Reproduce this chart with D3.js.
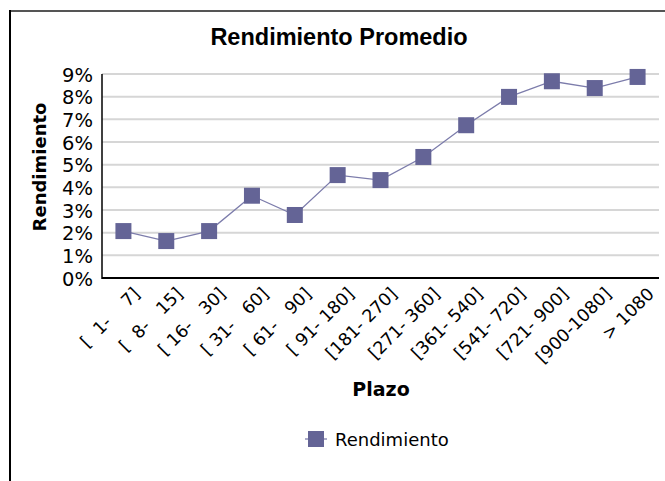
<!DOCTYPE html>
<html>
<head>
<meta charset="utf-8">
<script src="https://cdn.jsdelivr.net/npm/d3@7"></script>
<style>
  body { margin: 0; background: #fff; }
  svg { display: block; }
  text { font-family: "DejaVu Sans", Tahoma, sans-serif; fill: #000; }
</style>
</head>
<body>
<script>
// data
var plazos = ["[  1-    7]", "[  8-   15]", "[ 16-   30]", "[ 31-   60]", "[ 61-   90]", "[ 91- 180]",
    "[181- 270]", "[271- 360]", "[361- 540]", "[541- 720]", "[721- 900]", "[900-1080]", "> 1080"];
var rendimiento = [0.0207, 0.0163, 0.0207, 0.0363, 0.0278, 0.0454, 0.0432, 0.0534, 0.0674, 0.0799, 0.0868, 0.0838, 0.0887];
var yTicks = [0, 0.01, 0.02, 0.03, 0.04, 0.05, 0.06, 0.07, 0.08, 0.09];

var w = 665, h = 481;
var plotL = 102, plotR = 659, plotT = 74, plotB = 278;
var markColor = "#646496", lineColor = "#7c7cab";

var svg = d3.select("body").append("svg")
    .attr("width", w)
    .attr("height", h);

//outer frame (runs off the page right and bottom)
svg.append("line").attr("x1", 9).attr("x2", w).attr("y1", 11).attr("y2", 11)
    .style("stroke", "#555").style("stroke-width", 2);
svg.append("line").attr("x1", 10).attr("x2", 10).attr("y1", 10).attr("y2", h)
    .style("stroke", "#000").style("stroke-width", 2);

var x = d3.scalePoint()
    .domain(plazos)
    .range([plotL, plotR])
    .padding(0.5);

var y = d3.scaleLinear()
    .domain([0, 0.09])
    .range([plotB, plotT]);

//gridlines
svg.append("g").selectAll("line")
    .data(yTicks.slice(1))
    .enter()
    .append("line")
    .attr("x1", plotL).attr("x2", plotR)
    .attr("y1", function(d){ return y(d); })
    .attr("y2", function(d){ return y(d); })
    .style("stroke", "#d6d6d6")
    .style("stroke-width", 2);

//y axis
var yAxis = svg.append("g")
    .attr("transform", "translate(" + plotL + ",0)")
    .call(d3.axisLeft(y).tickValues(yTicks).tickFormat(d3.format(".0%")).tickSize(0).tickPadding(9));
yAxis.select(".domain").remove();
yAxis.selectAll("text").style("font-size", "19.5px").attr("dy", "0.36em");
svg.append("line").attr("x1", plotL).attr("x2", plotL).attr("y1", plotT).attr("y2", plotB + 1)
    .style("stroke", "#000").style("stroke-width", 1.5);

//x axis
var xAxis = svg.append("g")
    .attr("transform", "translate(0," + plotB + ")")
    .call(d3.axisBottom(x).tickSize(0));
xAxis.select(".domain").remove();
xAxis.selectAll("text")
    .style("font-size", "17.5px")
    .style("white-space", "pre")
    .attr("text-anchor", "end")
    .attr("dy", null)
    .attr("y", 0)
    .attr("transform", "translate(17,17) rotate(-45)");
svg.append("line").attr("x1", plotL).attr("x2", plotR).attr("y1", plotB).attr("y2", plotB)
    .style("stroke", "#000").style("stroke-width", 2);

//series line
var line = d3.line()
    .x(function(d, i){ return x(plazos[i]); })
    .y(function(d){ return y(d); });

svg.append("path")
    .datum(rendimiento)
    .attr("d", line)
    .style("fill", "none")
    .style("stroke", lineColor)
    .style("stroke-width", 1.3);

var ms = 16;
svg.selectAll(".mark")
    .data(rendimiento)
    .enter()
    .append("rect")
    .attr("class", "mark")
    .attr("x", function(d, i){ return x(plazos[i]) - ms / 2; })
    .attr("y", function(d){ return y(d) - ms / 2; })
    .attr("width", ms)
    .attr("height", ms)
    .style("fill", markColor);

//title
svg.append("text")
    .attr("x", 339).attr("y", 45)
    .attr("text-anchor", "middle")
    .style("font-family", "'Liberation Sans', Arial, sans-serif")
    .style("font-weight", "bold")
    .style("font-size", "23.5px")
    .text("Rendimiento Promedio");

//axis titles
svg.append("text")
    .attr("transform", "translate(46,167) rotate(-90)")
    .attr("text-anchor", "middle")
    .style("font-weight", "bold")
    .style("font-size", "18px")
    .text("Rendimiento");

svg.append("text")
    .attr("x", 381).attr("y", 396)
    .attr("text-anchor", "middle")
    .style("font-weight", "bold")
    .style("font-size", "19px")
    .text("Plazo");

//legend
svg.append("line").attr("x1", 305).attr("x2", 327).attr("y1", 439).attr("y2", 439)
    .style("stroke", lineColor).style("stroke-width", 1.3);
svg.append("rect").attr("x", 308).attr("y", 431).attr("width", 16).attr("height", 16)
    .style("fill", markColor);
svg.append("text")
    .attr("x", 335).attr("y", 446)
    .style("font-size", "18px")
    .text("Rendimiento");
</script>
</body>
</html>
